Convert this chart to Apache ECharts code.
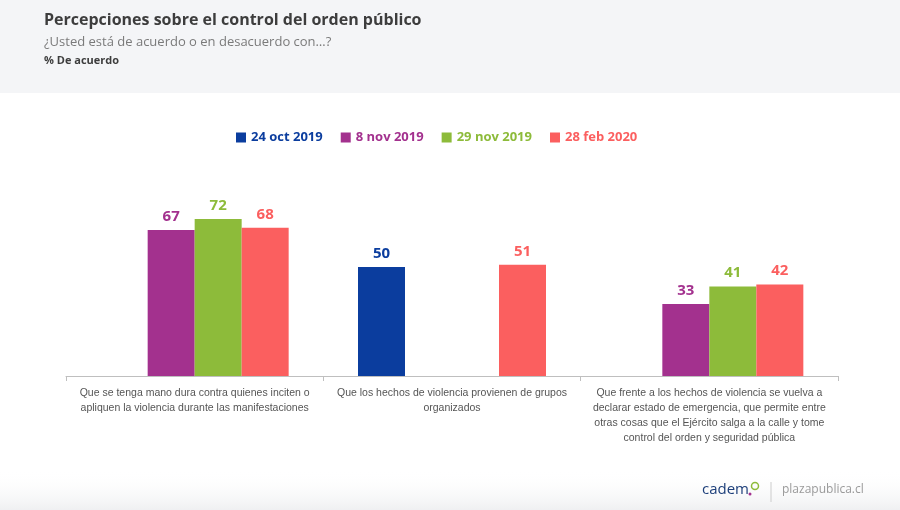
<!DOCTYPE html>
<html>
<head>
<meta charset="utf-8">
<script src="https://cdn.jsdelivr.net/npm/echarts@6/dist/echarts.min.js"></script>
<style>html,body{margin:0;padding:0;background:#fff}#c{width:900px;height:510px}</style>
</head>
<body>
<div id="c"></div>
<script>
const categories = [
  "Que se tenga mano dura contra quienes inciten o\napliquen la violencia durante las manifestaciones",
  "Que los hechos de violencia provienen de grupos\norganizados",
  "Que frente a los hechos de violencia se vuelva a\ndeclarar estado de emergencia, que permite entre\notras cosas que el Ejército salga a la calle y tome\ncontrol del orden y seguridad pública"
];
const seriesNames = ["24 oct 2019", "8 nov 2019", "29 nov 2019", "28 feb 2020"];
const oct24 = [null, 50, null];
const nov8 = [67, null, 33];
const nov29 = [72, null, 41];
const feb28 = [68, 51, 42];
const colors = ["#0b3d9e", "#a3318e", "#8dbb3a", "#fb5f5f"];
const values = [oct24, nov8, nov29, feb28];

const chart = echarts.init(document.getElementById('c'), null, {renderer: 'canvas'});
const font = "'Open Sans', 'Noto Sans', sans-serif";
chart.setOption({
  animation: false,
  backgroundColor: '#ffffff',
  graphic: [
    {type: 'rect', shape: {x: 0, y: 0, width: 900, height: 93}, style: {fill: '#f4f5f7'}, z: -10},
    {type: 'rect', shape: {x: 0, y: 470, width: 900, height: 40},
     style: {fill: new echarts.graphic.LinearGradient(0, 0, 0, 1, [{offset: 0, color: 'rgba(255,255,255,0)'}, {offset: 1, color: 'rgba(235,236,238,0.8)'}])}, z: -10},
    {type: 'text', left: 44, top: 12, style: {text: 'Percepciones sobre el control del orden público', font: "bold 16px " + font, fill: '#3d3d3d'}},
    {type: 'text', left: 44, top: 36, style: {text: '¿Usted está de acuerdo o en desacuerdo con…?', font: "13px " + font, fill: '#7a7a7a'}},
    {type: 'text', left: 44, top: 55, style: {text: '% De acuerdo', font: "bold 11px " + font, fill: '#3d3d3d'}},
    {type: 'text', left: 702, top: 482, style: {text: 'cadem', font: "15px " + font, fill: '#1d3f7a'}},
    {type: 'circle', shape: {cx: 755, cy: 486, r: 3.5}, style: {fill: 'none', stroke: '#8dbb3a', lineWidth: 1.5}},
    {type: 'circle', shape: {cx: 750, cy: 494, r: 1.5}, style: {fill: '#a3318e'}},
    {type: 'line', shape: {x1: 771, y1: 482, x2: 771, y2: 502}, style: {stroke: '#cccccc', lineWidth: 1}},
    {type: 'text', left: 782, top: 484, style: {text: 'plazapublica.cl', font: "12px " + font, fill: '#9a9a9a'}}
  ],
  legend: {
    left: 231, top: 126,
    itemWidth: 10, itemHeight: 10, itemGap: 18,
    icon: 'rect',
    data: seriesNames.map((n, i) => ({name: n, textStyle: {color: colors[i]}})),
    textStyle: {fontFamily: font, fontWeight: 'bold', fontSize: 13}
  },
  grid: {left: 66, right: 62, top: 158, bottom: 134},
  xAxis: {
    type: 'category', data: categories,
    axisLine: {lineStyle: {color: '#bfbfbf'}},
    axisTick: {show: true, length: 5, lineStyle: {color: '#bfbfbf'}},
    axisLabel: {fontFamily: "'Liberation Sans Narrow', 'Liberation Sans', sans-serif", fontSize: 10.5, color: '#555555', lineHeight: 15, margin: 10, interval: 0}
  },
  yAxis: {type: 'value', min: 0, max: 100, show: false, splitLine: {show: false}},
  series: values.map((v, i) => ({
    name: seriesNames[i], type: 'bar', data: v,
    barWidth: 47, barGap: '0%',
    itemStyle: {color: colors[i]},
    label: {show: true, position: 'top', distance: 6, color: colors[i], fontFamily: font, fontWeight: 'bold', fontSize: 15}
  }))
});
</script>
</body>
</html>
